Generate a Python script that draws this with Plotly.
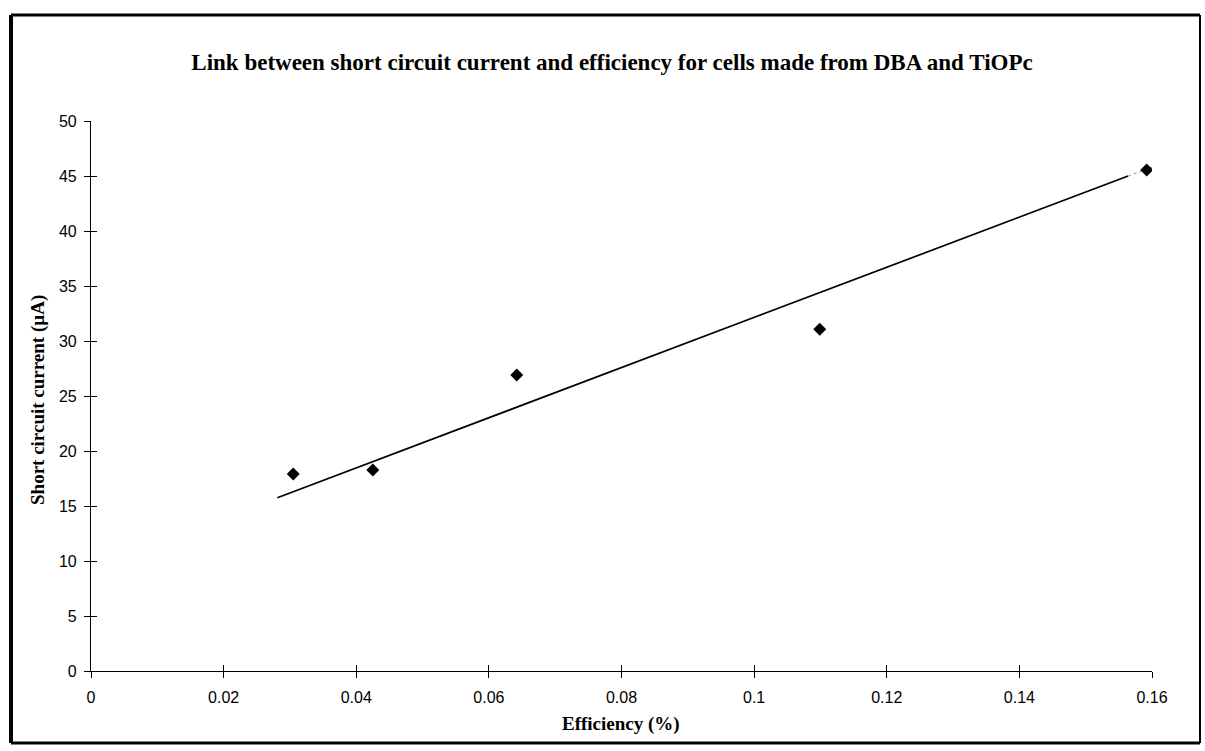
import plotly.graph_objects as go

# data
efficiency = [0.0305, 0.0425, 0.0642, 0.1099, 0.1592]
current = [17.9, 18.27, 26.9, 31.06, 45.55]

# trendline as drawn (solid part, then faint dotted tail)
trend_x = [0.0281, 0.1564]
trend_y = [15.75, 45.0]
tail_x = [0.1564, 0.1621]
tail_y = [45.0, 46.27]

x_ticks = [0, 0.02, 0.04, 0.06, 0.08, 0.1, 0.12, 0.14, 0.16]
x_labels = ['0', '0.02', '0.04', '0.06', '0.08', '0.1', '0.12', '0.14', '0.16']
y_ticks = [0, 5, 10, 15, 20, 25, 30, 35, 40, 45, 50]

W, H = 1205, 751
L, R, T, B = 91, 53, 121, 80
pw, ph = W - L - R, H - T - B


def px(x):
    return (x - L) / pw


def py(y):
    return (H - B - y) / ph


fig = go.Figure()
fig.add_trace(go.Scatter(x=trend_x, y=trend_y, mode='lines',
                         line=dict(color='black', width=1.7), showlegend=False))
fig.add_trace(go.Scatter(x=tail_x, y=tail_y, mode='lines',
                         line=dict(color='#999', width=1, dash='dot'), showlegend=False))
fig.add_trace(go.Scatter(x=efficiency, y=current, mode='markers',
                         marker=dict(symbol='diamond', size=10, color='black'),
                         showlegend=False))
# dummy trace so the overlay axes (inner half of the cross ticks) get drawn
fig.add_trace(go.Scatter(x=[0], y=[0], xaxis='x2', yaxis='y2', mode='markers',
                         marker=dict(opacity=0), showlegend=False, hoverinfo='skip'))

tickfont = dict(family='Liberation Sans, Arial', size=16, color='black')
fig.update_layout(
    width=W, height=H,
    margin=dict(l=L, r=R, t=T, b=B),
    paper_bgcolor='white', plot_bgcolor='white',
    title=dict(text='<b>Link between short circuit current and efficiency for cells made from DBA and TiOPc</b>',
               font=dict(family='Liberation Serif, Times New Roman', size=23, color='black'),
               x=px(612), xanchor='center', xref='paper', y=1 - 62 / H, yanchor='middle'),
    xaxis=dict(range=[0, 0.16], tickvals=x_ticks, ticktext=x_labels, ticks='outside',
               ticklen=6, tickcolor='black', showline=True, linecolor='black', linewidth=1.2,
               showgrid=False, zeroline=False, tickfont=tickfont, ticklabelstandoff=6),
    yaxis=dict(range=[0, 50], tickvals=y_ticks, ticks='outside', ticklen=6,
               tickcolor='black', showline=True, linecolor='black', linewidth=1.2,
               showgrid=False, zeroline=False, tickfont=tickfont, ticklabelstandoff=4),
    xaxis2=dict(range=[0, 0.16], overlaying='x', anchor='y', tickvals=x_ticks, ticks='inside',
                ticklen=6, tickcolor='black', showticklabels=False, showgrid=False,
                zeroline=False, showline=False),
    yaxis2=dict(range=[0, 50], overlaying='y', anchor='x', tickvals=y_ticks, ticks='inside',
                ticklen=6, tickcolor='black', showticklabels=False, showgrid=False,
                zeroline=False, showline=False, side='left'),
)

axis_font = dict(family='Liberation Serif, Times New Roman', size=19, color='black')
fig.add_annotation(text='<b>Efficiency (%)</b>', xref='paper', yref='paper',
                   x=px(621), y=py(724), xanchor='center', yanchor='middle',
                   showarrow=False, font=axis_font)
fig.add_annotation(text='<b>Short circuit current (µA)</b>', xref='paper', yref='paper',
                   x=px(38), y=py(400), xanchor='center', yanchor='middle',
                   showarrow=False, textangle=-90, font=axis_font)

# scanned page frame
frame = [(11, 11, 15, 743, 4), (11, 1200, 15, 15, 3), (11, 1200, 743, 743, 3), (1200, 1200, 15, 743, 2)]
for x0, x1, y0, y1, w in frame:
    fig.add_shape(type='line', xref='paper', yref='paper', x0=px(x0), x1=px(x1),
                  y0=py(y0), y1=py(y1), line=dict(color='black', width=w))

# drop the browser's default body margin so the figure sits at the page origin
fig.write_html('out.html', config={'displayModeBar': False},
               post_script="document.body.style.margin='0';")
